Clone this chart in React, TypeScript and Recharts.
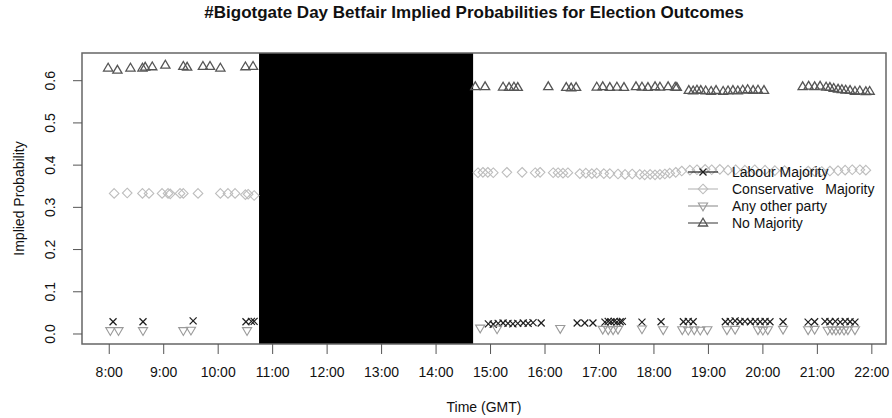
import React from 'react';
import { ScatterChart, Scatter, XAxis, YAxis, ReferenceArea, Legend } from 'recharts';

const hourTicks = [8, 9, 10, 11, 12, 13, 14, 15, 16, 17, 18, 19, 20, 21, 22];
const probTicks = [0, 0.1, 0.2, 0.3, 0.4, 0.5, 0.6];
const blackoutStart = 10.75;
const blackoutEnd = 14.68;

// Labour Majority
const labourTimes = [8.07, 8.62, 9.54, 10.51, 10.61, 10.66,
  14.96, 15.05, 15.14, 15.23, 15.32, 15.41, 15.5, 15.6, 15.69, 15.78, 15.93,
  16.59, 16.73, 16.88, 17.1, 17.16, 17.21, 17.27, 17.32, 17.38, 17.42, 17.78, 18.13,
  18.54, 18.63, 18.72, 19.31, 19.4, 19.49, 19.58, 19.67, 19.77, 19.86, 19.95, 20.04, 20.13,
  20.37, 20.83, 20.95, 21.14, 21.23, 21.33, 21.42, 21.51, 21.6, 21.69];
const labourValues = [0.029, 0.029, 0.031, 0.029, 0.030, 0.030,
  0.024, 0.023, 0.025, 0.026, 0.025, 0.024, 0.025, 0.026, 0.025, 0.027, 0.026,
  0.026, 0.026, 0.026, 0.028, 0.030, 0.029, 0.030, 0.028, 0.029, 0.030, 0.028, 0.029,
  0.029, 0.030, 0.029, 0.029, 0.030, 0.031, 0.029, 0.030, 0.029, 0.030, 0.029, 0.030, 0.029,
  0.029, 0.028, 0.029, 0.030, 0.029, 0.030, 0.028, 0.030, 0.029, 0.028];

// Conservative Majority
const conservativeTimes = [8.09, 8.33, 8.61, 8.73, 8.97, 9.08, 9.12, 9.3, 9.36, 9.63, 10.04, 10.18, 10.31, 10.5, 10.55, 10.66,
  14.77, 14.86, 14.95, 15.05, 15.3, 15.58, 15.82, 15.91, 16.15, 16.24, 16.33, 16.42, 16.64, 16.75, 16.86, 16.95,
  17.08, 17.19, 17.34, 17.47, 17.6, 17.74, 17.83, 17.93, 18.02, 18.11, 18.2, 18.29, 18.4, 18.51, 18.66, 18.79,
  18.94, 19.06, 19.21, 19.36, 19.5, 19.67, 19.85, 20.04, 20.22, 20.4, 20.83, 20.95, 21.08, 21.23, 21.38, 21.51,
  21.64, 21.78, 21.89];
const conservativeValues = [0.333, 0.334, 0.333, 0.333, 0.333, 0.333, 0.332, 0.333, 0.333, 0.333, 0.333, 0.333, 0.333, 0.330, 0.331, 0.328,
  0.382, 0.383, 0.383, 0.382, 0.383, 0.383, 0.382, 0.383, 0.382, 0.382, 0.381, 0.382, 0.380, 0.381, 0.380, 0.381,
  0.380, 0.380, 0.379, 0.378, 0.379, 0.378, 0.377, 0.378, 0.377, 0.378, 0.379, 0.381, 0.383, 0.386, 0.388, 0.389,
  0.390, 0.389, 0.390, 0.388, 0.389, 0.388, 0.389, 0.388, 0.387, 0.387, 0.386, 0.385, 0.385, 0.386, 0.387, 0.388,
  0.389, 0.389, 0.388];

// Any other party
const otherTimes = [8.02, 8.17, 8.62, 9.36, 9.5, 10.53,
  14.81, 15.12, 16.28, 17.06, 17.16, 17.25, 17.34, 17.78, 18.17, 18.52, 18.63, 18.74, 18.85, 18.98,
  19.34, 19.49, 19.91, 20.0, 20.09, 20.37, 20.83, 20.95, 21.19, 21.27, 21.34, 21.41, 21.49, 21.56, 21.69];
const otherValues = [0.008, 0.008, 0.008, 0.008, 0.009, 0.008,
  0.014, 0.012, 0.013, 0.011, 0.010, 0.010, 0.011, 0.012, 0.010, 0.010, 0.009, 0.010, 0.009, 0.010,
  0.010, 0.011, 0.010, 0.009, 0.010, 0.011, 0.010, 0.011, 0.009, 0.010, 0.009, 0.010, 0.009, 0.010, 0.010];

// No Majority
const noMajorityTimes = [7.98, 8.15, 8.39, 8.61, 8.66, 8.79, 9.03, 9.36, 9.43, 9.72, 9.85, 10.04, 10.5, 10.64,
  14.72, 14.9, 15.23, 15.34, 15.43, 15.5, 16.06, 16.39, 16.48, 16.57, 16.95, 17.06, 17.19, 17.32, 17.45,
  17.67, 17.78, 17.89, 18.02, 18.11, 18.26, 18.39, 18.42, 18.64, 18.72, 18.79, 18.86, 18.95, 19.05, 19.14,
  19.27, 19.36, 19.45, 19.54, 19.63, 19.72, 19.82, 19.91, 20.02, 20.73, 20.84, 20.95, 21.05, 21.16, 21.23,
  21.3, 21.38, 21.45, 21.52, 21.6, 21.69, 21.78, 21.89, 21.96];
const noMajorityValues = [0.630, 0.625, 0.630, 0.630, 0.632, 0.633, 0.637, 0.634, 0.632, 0.634, 0.634, 0.630, 0.633, 0.634,
  0.586, 0.586, 0.585, 0.584, 0.585, 0.584, 0.586, 0.584, 0.583, 0.584, 0.585, 0.586, 0.584, 0.585, 0.584,
  0.586, 0.585, 0.584, 0.586, 0.585, 0.586, 0.585, 0.584, 0.577, 0.576, 0.578, 0.577, 0.576, 0.575, 0.577,
  0.575, 0.576, 0.577, 0.576, 0.578, 0.579, 0.577, 0.578, 0.577, 0.586, 0.587, 0.586, 0.587, 0.585, 0.584,
  0.582, 0.580, 0.579, 0.578, 0.577, 0.575, 0.576, 0.574, 0.575];

const toPoints = (times: number[], values: number[]) => times.map((t, i) => ({ x: t, y: values[i] }));

const FONT = '"Liberation Sans", Arial, Helvetica, sans-serif';
const LABOUR_COLOR = '#1e1e1e';
const CONS_COLOR = '#bdbdbd';
const OTHER_COLOR = '#9a9a9a';
const NOMAJ_COLOR = '#555555';

const CrossMark = ({ cx, cy }: any) => (
  <g stroke={LABOUR_COLOR} strokeWidth={1.2}>
    <line x1={cx - 3.5} y1={cy - 3.5} x2={cx + 3.5} y2={cy + 3.5} />
    <line x1={cx - 3.5} y1={cy + 3.5} x2={cx + 3.5} y2={cy - 3.5} />
  </g>
);
const DiamondMark = ({ cx, cy }: any) => (
  <polygon points={`${cx},${cy - 4.8} ${cx + 4.8},${cy} ${cx},${cy + 4.8} ${cx - 4.8},${cy}`} fill="none" stroke={CONS_COLOR} strokeWidth={1.1} />
);
const DownTriMark = ({ cx, cy }: any) => (
  <polygon points={`${cx - 4.6},${cy - 3} ${cx + 4.6},${cy - 3} ${cx},${cy + 4.8}`} fill="none" stroke={OTHER_COLOR} strokeWidth={1.1} />
);
const UpTriMark = ({ cx, cy }: any) => (
  <polygon points={`${cx - 4.6},${cy + 3} ${cx + 4.6},${cy + 3} ${cx},${cy - 4.8}`} fill="none" stroke={NOMAJ_COLOR} strokeWidth={1.3} />
);

const legendItems = [
  { label: 'Labour Majority', color: LABOUR_COLOR, Mark: CrossMark },
  { label: 'Conservative   Majority', color: CONS_COLOR, Mark: DiamondMark },
  { label: 'Any other party', color: OTHER_COLOR, Mark: DownTriMark },
  { label: 'No Majority', color: NOMAJ_COLOR, Mark: UpTriMark },
];

const LegendBox = () => (
  <svg width={210} height={80} style={{ display: 'block', overflow: 'visible' }}>
    {legendItems.map((it, i) => {
      const y = 10 + i * 17;
      const M = it.Mark;
      return (
        <g key={it.label}>
          <line x1={4} x2={34} y1={y} y2={y} stroke={it.color} strokeWidth={1.2} />
          <M cx={19} cy={y} />
          <text x={48} y={y + 5} fontFamily={FONT} fontSize={14} fill="#111" style={{ whiteSpace: 'pre' }}>{it.label}</text>
        </g>
      );
    })}
  </svg>
);

const YTick = ({ x, y, payload }: any) => (
  <text x={x - 16} y={y} transform={`rotate(-90 ${x - 16} ${y})`} textAnchor="middle" fontFamily={FONT} fontSize={14} fill="#111">
    {Number(payload.value).toFixed(1)}
  </text>
);

export default function App() {
  return (
    <div style={{ position: 'absolute', left: 0, top: 0, width: 892, height: 418, background: '#fff', fontFamily: FONT }}>
      <div style={{ position: 'absolute', left: 0, top: 3, width: 948, textAlign: 'center', fontSize: 17, fontWeight: 'bold', color: '#111' }}>
        #Bigotgate Day Betfair Implied Probabilities for Election Outcomes
      </div>
      <ScatterChart width={892} height={418} margin={{ top: 53, right: 6, bottom: 0, left: 0 }} style={{ position: 'absolute', left: 0, top: 0 }}>
        <XAxis
          dataKey="x"
          type="number"
          domain={[7.5, 22.26]}
          ticks={hourTicks}
          allowDataOverflow
          height={74}
          axisLine={false}
          tickSize={10}
          tickMargin={13}
          tickLine={{ stroke: '#555' }}
          tick={{ fill: '#111', fontSize: 14, fontFamily: FONT }}
          tickFormatter={(h: number) => `${h}:00`}
          label={{
            content: () => (
              <text x={484} y={412} textAnchor="middle" fontFamily={FONT} fontSize={14} fill="#111">Time (GMT)</text>
            ),
          }}
        />
        <YAxis
          dataKey="y"
          type="number"
          domain={[-0.0237, 0.6656]}
          ticks={probTicks}
          allowDataOverflow
          width={82}
          axisLine={false}
          tickSize={9}
          tickLine={{ stroke: '#555' }}
          tick={<YTick />}
          label={{
            content: () => (
              <text x={24} y={198.5} transform="rotate(-90 24 198.5)" textAnchor="middle" fontFamily={FONT} fontSize={14} fill="#111">Implied Probability</text>
            ),
          }}
        />
        <Scatter name="Labour Majority" data={toPoints(labourTimes, labourValues)} shape={CrossMark} isAnimationActive={false} />
        <Scatter name="Conservative Majority" data={toPoints(conservativeTimes, conservativeValues)} shape={DiamondMark} isAnimationActive={false} />
        <Scatter name="Any other party" data={toPoints(otherTimes, otherValues)} shape={DownTriMark} isAnimationActive={false} />
        <Scatter name="No Majority" data={toPoints(noMajorityTimes, noMajorityValues)} shape={UpTriMark} isAnimationActive={false} />
        <ReferenceArea x1={blackoutStart} x2={blackoutEnd} fill="#000" fillOpacity={1} stroke="none" ifOverflow="extendDomain" />
        <ReferenceArea x1={7.5} x2={22.26} y1={-0.0237} y2={0.6656} fill="none" stroke="#666" strokeWidth={1.5} />
        <Legend
          layout="vertical"
          align="center"
          verticalAlign="middle"
          wrapperStyle={{ position: 'absolute', left: 684, top: 162, width: 210, height: 80 }}
          content={() => <LegendBox />}
        />
      </ScatterChart>
    </div>
  );
}
